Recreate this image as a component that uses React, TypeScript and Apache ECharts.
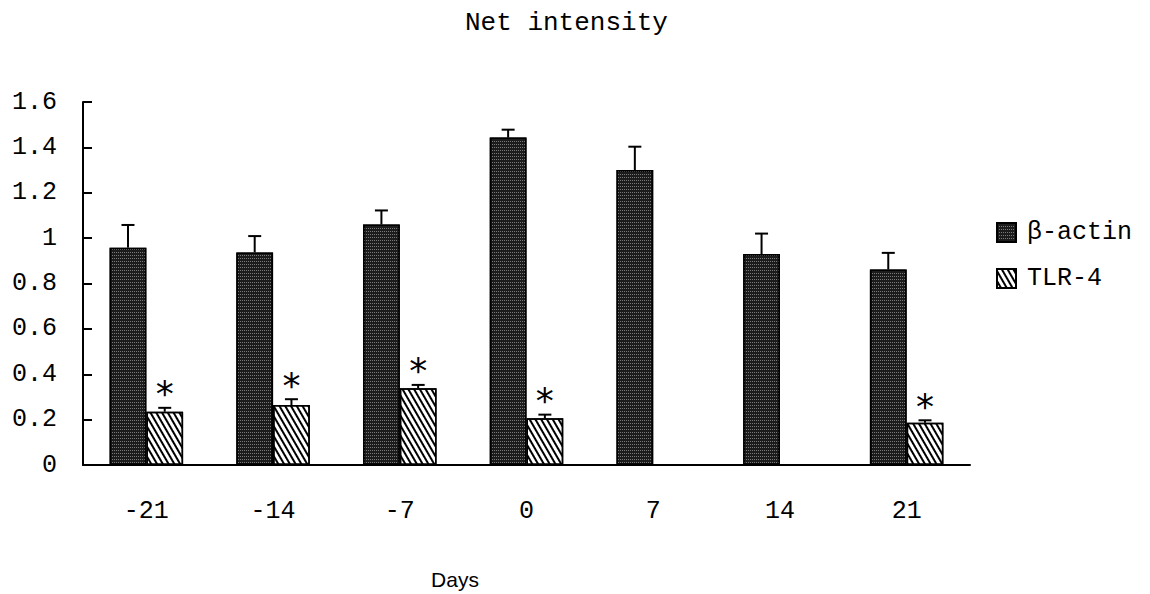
import React, { useEffect, useRef } from "react";
import * as echarts from "echarts";

const categories = ["-21", "-14", "-7", "0", "7", "14", "21"];
const actinValues = [0.958, 0.937, 1.06, 1.443, 1.3, 0.93, 0.862];
const actinErrTop = [1.058, 1.009, 1.122, 1.478, 1.403, 1.02, 0.935];
const tlrValues = [0.235, 0.264, 0.338, 0.206, 0, 0, 0.186];
const tlrErrTop = [0.252, 0.29, 0.353, 0.222, 0, 0, 0.197];
const tlrStar = [true, true, true, true, false, false, true];
const yTicks = { min: 0, max: 1.6, interval: 0.2 };

const MONO = "'Liberation Mono', 'DejaVu Sans Mono', monospace";

export default function App() {
  const ref = useRef<HTMLDivElement>(null);
  useEffect(() => {
    if (!ref.current) return;
    const chart = echarts.init(ref.current, null, { renderer: "svg" });
    const barRatio = 0.29;

    const errSeries = (name: string, vals: number[], tops: number[], side: number, stars: boolean[] | null) => ({
      type: "custom",
      name: name + "-err",
      z: 5,
      silent: true,
      renderItem: (params: any, api: any) => {
        const i = api.value(0);
        const v = api.value(1);
        const t = api.value(2);
        const star = api.value(3);
        const band = api.size([1, 0])[0];
        const c = api.coord([i, v]);
        const ct = api.coord([i, t]);
        const x = c[0] + side * band * barRatio / 2;
        const children: any[] = [];
        if (t > v) {
          children.push({
            type: "line",
            shape: { x1: x, y1: c[1], x2: x, y2: ct[1] },
            style: { stroke: "#000", lineWidth: 2 },
          });
          children.push({
            type: "line",
            shape: { x1: x - 6.5, y1: ct[1], x2: x + 6.5, y2: ct[1] },
            style: { stroke: "#000", lineWidth: 2 },
          });
        }
        if (star) {
          children.push({
            type: "text",
            x: x,
            y: ct[1] - 14,
            style: {
              text: "*",
              font: "36px 'DejaVu Sans', sans-serif",
              fill: "#000",
              align: "center",
              verticalAlign: "middle",
            },
          });
        }
        return { type: "group", children };
      },
      data: vals.map((v, i) => [i, v, tops[i], stars && stars[i] ? 1 : 0]),
    });

    chart.setOption({
      animation: false,
      title: {
        text: "Net intensity",
        left: 460,
        top: 5,
        textStyle: { fontFamily: MONO, fontSize: 26, fontWeight: "normal", color: "#000" },
      },
      legend: {
        orient: "vertical",
        left: 991,
        top: 215,
        itemWidth: 19,
        itemHeight: 19,
        itemGap: 21,
        icon: "rect",
        data: ["β-actin", "TLR-4"],
        textStyle: { fontFamily: MONO, fontSize: 25, color: "#000", padding: [0, 0, 0, 6] },
      },
      graphic: [
        {
          type: "text",
          x: 455,
          y: 579,
          style: {
            text: "Days",
            font: "21px 'Liberation Sans', Arial, sans-serif",
            fill: "#000",
            align: "center",
            verticalAlign: "middle",
          },
        },
      ],
      grid: { left: 83, right: 180, top: 102, bottom: 129 },
      xAxis: {
        type: "category",
        data: categories,
        axisLine: { lineStyle: { color: "#000", width: 2 } },
        axisTick: { inside: true, length: 8, lineStyle: { color: "#000", width: 2 } },
        axisLabel: { fontFamily: MONO, fontSize: 25, color: "#000", margin: 34 },
      },
      yAxis: {
        type: "value",
        min: yTicks.min,
        max: yTicks.max,
        interval: yTicks.interval,
        splitLine: { show: false },
        axisLine: { show: true, lineStyle: { color: "#000", width: 2 } },
        axisTick: { show: true, inside: true, length: 9, lineStyle: { color: "#000", width: 2 } },
        axisLabel: { fontFamily: MONO, fontSize: 25, color: "#000", margin: 26 },
      },
      series: [
        {
          name: "β-actin",
          type: "bar",
          data: actinValues,
          barWidth: "29%",
          barGap: "0%",
          itemStyle: {
            color: "#1c1c1c",
            borderColor: "#000",
            borderWidth: 1.5,
            decal: {
              symbol: "rect",
              symbolSize: 1,
              color: "#7a7a7a",
              dashArrayX: [1, 1],
              dashArrayY: [1, 2],
              rotation: 0,
            },
          },
        },
        {
          name: "TLR-4",
          type: "bar",
          data: tlrValues,
          barWidth: "29%",
          barGap: "0%",
          itemStyle: {
            color: "#ffffff",
            borderColor: "#000",
            borderWidth: 1.5,
            decal: {
              symbol: "rect",
              symbolSize: 1,
              color: "#000",
              dashArrayX: [1, 0],
              dashArrayY: [1.1, 2.4],
              rotation: Math.PI / 3,
            },
          },
        },
        errSeries("β-actin", actinValues, actinErrTop, -1, null),
        errSeries("TLR-4", tlrValues, tlrErrTop, 1, tlrStar),
      ],
    });
    return () => chart.dispose();
  }, []);
  return (
    <div
      ref={ref}
      style={{ position: "absolute", left: 0, top: 0, width: 1150, height: 594, background: "#fff" }}
    />
  );
}
